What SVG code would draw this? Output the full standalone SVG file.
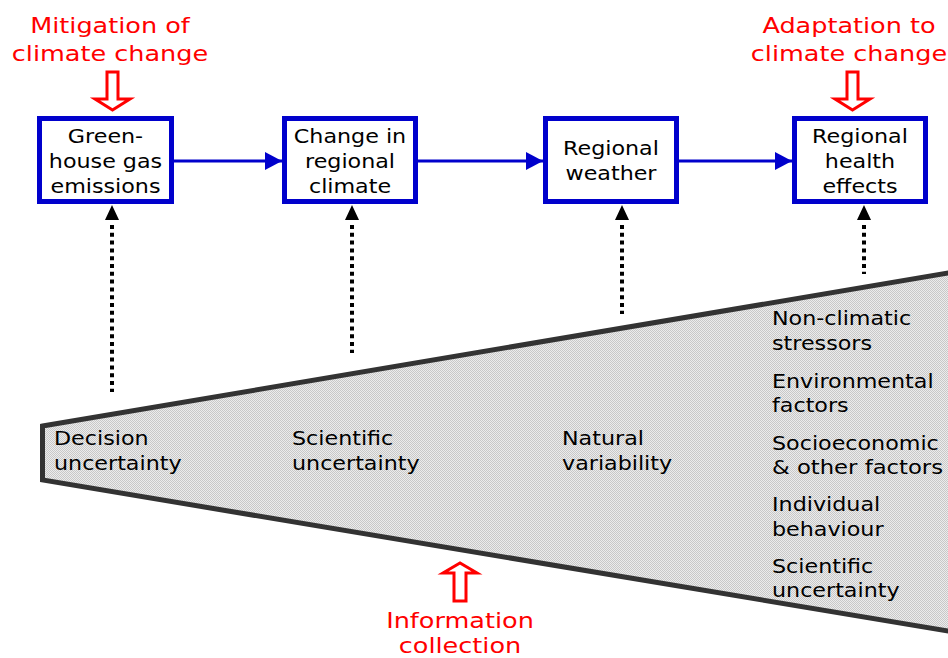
<svg xmlns="http://www.w3.org/2000/svg" width="948" height="658" viewBox="0 0 948 658">
<defs>
<pattern id="dither" width="2" height="2" patternUnits="userSpaceOnUse">
<rect width="2" height="2" fill="#ececec"/>
<rect width="1" height="1" fill="#c8c8c8"/>
<rect x="1" y="1" width="1" height="1" fill="#c8c8c8"/>
</pattern>
<marker id="blueHead" markerWidth="17" markerHeight="18" refX="17" refY="9" orient="auto" markerUnits="userSpaceOnUse">
<path d="M0,0 L17,9 L0,18 Z" fill="#0000cc"/>
</marker>
</defs>
<style>
.box{fill:#fff;stroke:#0000cc;stroke-width:5}
.t{font-family:"DejaVu Sans","Verdana",sans-serif;font-size:19.5px;fill:#000}
.r{font-family:"DejaVu Sans","Verdana",sans-serif;font-size:22px;fill:#ff0000}
.c{text-anchor:middle}
.flow{stroke:#0000cc;stroke-width:3;fill:none}
.dot{stroke:#000;stroke-width:4;stroke-dasharray:4 3.8;fill:none}
.hollow{fill:#fff;stroke:#ff0000;stroke-width:3;stroke-linejoin:miter}
</style>

<g id="uncertainty-wedge">
<polygon points="42.5,426 960,271 960,633 42.5,480" fill="url(#dither)" stroke="#333" stroke-width="5" stroke-linejoin="miter"/>
</g>

<g id="connectors">
<line class="flow" x1="174" y1="161" x2="282" y2="161" marker-end="url(#blueHead)"/>
<line class="flow" x1="418" y1="161" x2="543" y2="161" marker-end="url(#blueHead)"/>
<line class="flow" x1="679" y1="161" x2="792" y2="161" marker-end="url(#blueHead)"/>
<line class="dot" x1="112" y1="225" x2="112" y2="392"/>
<path d="M112,205 L119,220 L105,220 Z" fill="#000"/>
<line class="dot" x1="352" y1="225" x2="352" y2="353"/>
<path d="M352,205 L359,220 L345,220 Z" fill="#000"/>
<line class="dot" x1="622" y1="225" x2="622" y2="314"/>
<path d="M622,205 L629,220 L615,220 Z" fill="#000"/>
<line class="dot" x1="864" y1="225" x2="864" y2="274"/>
<path d="M864,205 L871,220 L857,220 Z" fill="#000"/>
</g>

<g id="node-ghg">
<rect class="box" x="39.5" y="118.5" width="132" height="83"/>
<g transform="translate(105.5,0) scale(1.14,1)">
<text class="t c" x="0" y="143">Green-</text>
<text class="t c" x="0" y="168">house gas</text>
<text class="t c" x="0" y="193">emissions</text>
</g>
</g>

<g id="node-climate">
<rect class="box" x="284.5" y="118.5" width="131" height="83"/>
<g transform="translate(350,0) scale(1.14,1)">
<text class="t c" x="0" y="143">Change in</text>
<text class="t c" x="0" y="168">regional</text>
<text class="t c" x="0" y="193">climate</text>
</g>
</g>

<g id="node-weather">
<rect class="box" x="545.5" y="118.5" width="131" height="83"/>
<g transform="translate(611,0) scale(1.14,1)">
<text class="t c" x="0" y="155">Regional</text>
<text class="t c" x="0" y="180">weather</text>
</g>
</g>

<g id="node-health">
<rect class="box" x="794.5" y="118.5" width="131" height="83"/>
<g transform="translate(860,0) scale(1.14,1)">
<text class="t c" x="0" y="143">Regional</text>
<text class="t c" x="0" y="168">health</text>
<text class="t c" x="0" y="193">effects</text>
</g>
</g>

<g id="mitigation">
<path class="hollow" d="M107,72 L118,72 L118,99 L130,99 L112.5,110 L95,99 L107,99 Z"/>
<g transform="translate(110,0) scale(1.16,1)">
<text class="r c" x="0" y="33">Mitigation of</text>
<text class="r c" x="0" y="61">climate change</text>
</g>
</g>

<g id="adaptation">
<path class="hollow" d="M847,72 L858,72 L858,99 L870,99 L852.5,110 L835,99 L847,99 Z"/>
<g transform="translate(849,0) scale(1.16,1)">
<text class="r c" x="0" y="33">Adaptation to</text>
<text class="r c" x="0" y="61">climate change</text>
</g>
</g>

<g id="information">
<path class="hollow" d="M454,601 L466,601 L466,573 L477,573 L460,563 L443,573 L454,573 Z"/>
<g transform="translate(460,0) scale(1.16,1)">
<text class="r c" x="0" y="628">Information</text>
<text class="r c" x="0" y="653">collection</text>
</g>
</g>

<g id="label-decision" transform="translate(54,0) scale(1.14,1)">
<text class="t" x="0" y="445">Decision</text>
<text class="t" x="0" y="470">uncertainty</text>
</g>
<g id="label-scientific" transform="translate(292,0) scale(1.14,1)">
<text class="t" x="0" y="445">Scientific</text>
<text class="t" x="0" y="470">uncertainty</text>
</g>
<g id="label-natural" transform="translate(562,0) scale(1.14,1)">
<text class="t" x="0" y="445">Natural</text>
<text class="t" x="0" y="470">variability</text>
</g>
<g id="label-factors" transform="translate(772,0) scale(1.14,1)">
<text class="t" x="0" y="325">Non-climatic</text>
<text class="t" x="0" y="350">stressors</text>
<text class="t" x="0" y="388">Environmental</text>
<text class="t" x="0" y="412">factors</text>
<text class="t" x="0" y="450">Socioeconomic</text>
<text class="t" x="0" y="474" textLength="150" lengthAdjust="spacingAndGlyphs">&amp; other factors</text>
<text class="t" x="0" y="511">Individual</text>
<text class="t" x="0" y="536">behaviour</text>
<text class="t" x="0" y="573">Scientific</text>
<text class="t" x="0" y="597">uncertainty</text>
</g>
</svg>
